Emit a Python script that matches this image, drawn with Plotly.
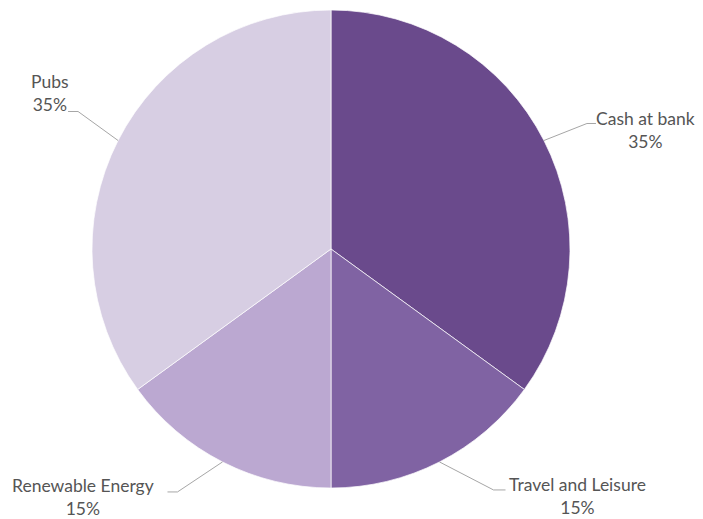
import math
import plotly.graph_objects as go

# ---- data ----
labels = ["Cash at bank", "Travel and Leisure", "Renewable Energy", "Pubs"]
values = [35, 15, 15, 35]
colors = ["#6a4a8c", "#8063a3", "#bba8d1", "#d7cee3"]

# ---- layout constants (pixels, in window coordinates) ----
W, H = 703, 519
OFF = 8  # page body margin
CX, CY, R = 331, 249, 239
# per-label leader geometry: elbow offset from slice edge, horizontal tail length, text centre offset from tail end
leader = {
    "Cash at bank": ((43, -17), 9, (50, 7)),
    "Travel and Leisure": ((54, 28), 12, (72, 6)),
    "Renewable Energy": ((-45, 30), -10, (-84, 5)),
    "Pubs": ((-40, -29), -10, (-18, -18)),
}

def px(x):
    return (x - OFF) / W

def py(y):
    return 1 - (y - OFF) / H

fig = go.Figure(go.Pie(
    labels=labels,
    values=values,
    sort=False,
    direction="clockwise",
    rotation=0,
    textinfo="none",
    hoverinfo="label+percent",
    marker=dict(colors=colors, line=dict(color="rgba(255,255,255,0.7)", width=1)),
    domain=dict(x=[px(CX - R), px(CX + R)], y=[py(CY + R), py(CY - R)]),
    showlegend=False,
))

total = sum(values)
cum = 0
shapes = []
annotations = []
for lab, v in zip(labels, values):
    mid = (cum + v / 2) / total * 2 * math.pi
    cum += v
    ex = CX + R * math.sin(mid)
    ey = CY - R * math.cos(mid)
    (dx, dy), tail, (tx, ty) = leader[lab]
    elx, ely = ex + dx, ey + dy
    endx = elx + tail
    path = f"M {px(ex)},{py(ey)} L {px(elx)},{py(ely)} L {px(endx)},{py(ely)}"
    shapes.append(dict(type="path", path=path, xref="paper", yref="paper",
                       line=dict(color="#a6a6a6", width=1)))
    pct = round(v / total * 100)
    annotations.append(dict(
        x=px(endx + tx), y=py(ely + ty), xref="paper", yref="paper",
        text=f"{lab}<br>{pct}%", showarrow=False, xanchor="center", yanchor="middle",
        align="center", font=dict(family="Lato", size=17.5, color="#555555"),
    ))

fig.update_layout(
    width=W, height=H,
    margin=dict(l=0, r=0, t=0, b=0),
    paper_bgcolor="white", plot_bgcolor="white",
    shapes=shapes, annotations=annotations,
)

fig.write_html("out.html")
